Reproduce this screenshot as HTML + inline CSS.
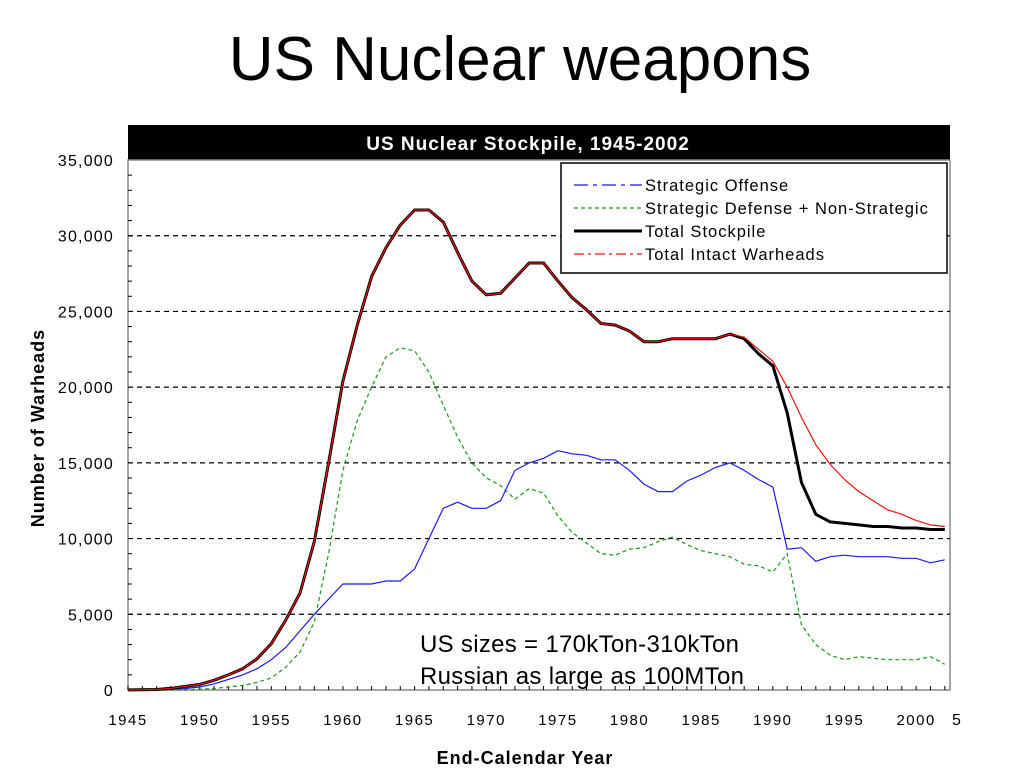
<!DOCTYPE html>
<html><head><meta charset="utf-8"><style>
body{margin:0;width:1024px;height:768px;background:#fff;overflow:hidden;font-family:"Liberation Sans",Arial,sans-serif}
</style></head><body>
<div style="position:absolute;left:0;width:1040px;top:24px;text-align:center;font-size:62px;color:#000">US Nuclear weapons</div>
<svg id="c" width="1024" height="768" style="position:absolute;left:0;top:0" font-family="Liberation Sans, Arial, sans-serif"></svg>
<script>
const years=[];for(let y=1945;y<=2002;y++)years.push(y);
const totalStockpile=[6,11,32,110,235,370,640,1000,1400,2060,3060,4600,6400,9800,15000,20400,24100,27300,29200,30700,31700,31700,30900,28900,27000,26100,26200,27200,28200,28200,27000,25900,25100,24200,24100,23700,23000,23000,23200,23200,23200,23200,23500,23200,22200,21400,18300,13700,11600,11100,11000,10900,10800,10800,10700,10700,10600,10600];
const intactWarheads=[6,11,32,110,235,370,640,1000,1400,2060,3060,4600,6400,9800,15000,20400,24100,27300,29200,30700,31700,31700,30900,28900,27000,26100,26200,27200,28200,28200,27000,25900,25100,24200,24100,23700,23000,23000,23200,23200,23200,23200,23500,23300,22500,21700,20000,18000,16200,14900,13900,13100,12500,11900,11600,11200,10900,10800];
const strategicOffense=[0,0,0,50,100,200,400,700,1000,1400,2000,2800,3900,5000,6000,7000,7000,7000,7200,7200,8000,10000,12000,12400,12000,12000,12500,14500,15000,15300,15800,15600,15500,15200,15200,14500,13600,13100,13100,13800,14200,14700,15000,14500,13900,13400,9300,9400,8500,8800,8900,8800,8800,8800,8700,8700,8400,8600];
const defenseNonStrategic=[0,0,0,0,0,50,100,200,300,500,800,1500,2500,4500,9000,14500,17800,20000,22000,22600,22400,21000,18800,16700,15000,14000,13500,12600,13300,13000,11500,10400,9700,9000,8900,9300,9400,9800,10100,9600,9200,9000,8800,8300,8200,7800,9000,4300,3000,2300,2000,2200,2100,2000,2000,2000,2200,1700];
const yTicks=[0,5000,10000,15000,20000,25000,30000,35000];
const xTicks=[1945,1950,1955,1960,1965,1970,1975,1980,1985,1990,1995,2000];
const X0=128,X1=950,Y0=690,Y1=160;
const xs=y=>X0+(y-1945)*14.33;
const ys=v=>Y0-v*(Y0-Y1)/35000;
const svg=document.getElementById('c');const NS='http://www.w3.org/2000/svg';
function mk(t,a,p){const e=document.createElementNS(NS,t);for(const k in a)e.setAttribute(k,a[k]);(p||svg).appendChild(e);return e;}
let e=mk('rect',{x:X0,y:125,width:X1-X0,height:35,fill:'#000'});

e=mk('text',{x:528,y:150,'text-anchor':'middle',fill:'#fff','font-size':19,'font-weight':'bold','letter-spacing':1});e.textContent='US Nuclear Stockpile, 1945-2002';

e=mk('rect',{x:X0,y:Y1,width:X1-X0,height:Y0-Y1,fill:'none',stroke:'#888','stroke-width':1.5});

yTicks.forEach(v=>{
 if(v>0&&v<35000){const g=mk('line',{x1:X0,x2:X1,y1:ys(v),y2:ys(v),stroke:'#000','stroke-dasharray':'5,4','stroke-width':1.2});}
 const t=mk('text',{x:114,y:ys(v)+6,'text-anchor':'end','font-size':16,'letter-spacing':1.2});t.textContent=v.toLocaleString('en-US');
 
});
for(let v=1000;v<35000;v+=1000)mk('line',{x1:X0,x2:X0+4,y1:ys(v),y2:ys(v),stroke:'#000'});
years.forEach(y=>mk('line',{x1:xs(y),x2:xs(y),y1:Y0,y2:Y0-4,stroke:'#000'}));
xTicks.forEach(y=>{const t=mk('text',{x:xs(y),y:725,'text-anchor':'middle','font-size':15,'letter-spacing':1.5});t.textContent=y;
 });
function series(arr,stroke,w,dash,name){const d=arr.map((v,i)=>(i?'L':'M')+xs(years[i]).toFixed(1)+','+ys(v).toFixed(1)).join('');
 const p=mk('path',{d:d,fill:'none',stroke:stroke,'stroke-width':w,'stroke-dasharray':dash});
 }
series(defenseNonStrategic,'#1a9a1a',1.2,'4,3','series-defense-nonstrategic');
series(strategicOffense,'#1a1aee',1.2,'none','series-strategic-offense');
series(totalStockpile,'#000',3,'none','series-total-stockpile');
series(intactWarheads,'#ee1111',1.2,'none','series-total-intact');
e=mk('text',{x:0,y:0,'font-size':18,'font-weight':'bold','text-anchor':'middle','letter-spacing':1,transform:'translate(44,428) rotate(-90)'});e.textContent='Number of Warheads';

e=mk('text',{x:525,y:764,'font-size':18,'font-weight':'bold','text-anchor':'middle','letter-spacing':1});e.textContent='End-Calendar Year';

const lg=mk('g',{});
mk('rect',{x:561,y:163,width:386,height:110,fill:'#fff',stroke:'#000','stroke-width':1.5},lg);
const L=[['Strategic Offense','#1a1aee',1.3,'14,5,4,5'],['Strategic Defense + Non-Strategic','#1a9a1a',1.3,'4,3'],['Total Stockpile','#000',3,'none'],['Total Intact Warheads','#ee1111',1.3,'10,4,3,4']];
L.forEach((l,i)=>{const yy=185+i*23;
 mk('line',{x1:574,x2:642,y1:yy,y2:yy,stroke:l[1],'stroke-width':l[2],'stroke-dasharray':l[3]},lg);
 const t=mk('text',{x:645,y:yy+6,'font-size':16.5,'letter-spacing':1},lg);t.textContent=l[0];
 });
e=mk('text',{x:420,y:652,'font-size':24,'letter-spacing':0.3});e.textContent='US sizes = 170kTon-310kTon';

e=mk('text',{x:420,y:684,'font-size':24,'letter-spacing':0.3});e.textContent='Russian as large as 100MTon';

e=mk('text',{x:952,y:725,'font-size':16});e.textContent='5';

</script>
</body></html>
